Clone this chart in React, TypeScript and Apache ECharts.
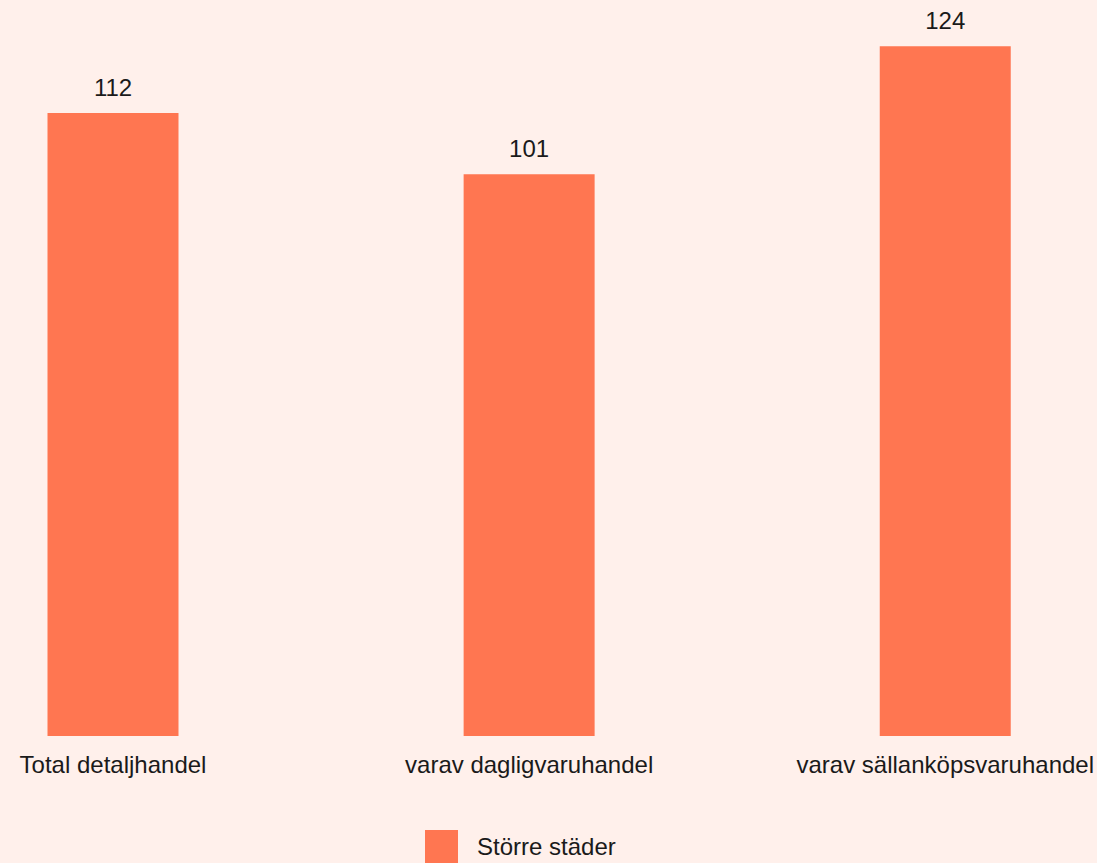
import React, { useEffect, useRef } from "react";
import * as echarts from "echarts";

const categories = ["Total detaljhandel", "varav dagligvaruhandel", "varav sällanköpsvaruhandel"];
const seriesName = "Större städer";
const values = [112, 101, 124];

const BG = "#FFF0EB";
const BAR = "#FF7651";
const FONT = "'Liberation Sans', Arial, sans-serif";

export default function App() {
  const ref = useRef<HTMLDivElement>(null);
  useEffect(() => {
    if (!ref.current) return;
    const chart = echarts.init(ref.current, undefined, { renderer: "svg" });
    chart.setOption({
      animation: false,
      backgroundColor: BG,
      textStyle: { fontFamily: FONT },
      grid: { left: 113, right: 149.5, top: 13, bottom: 127, containLabel: false },
      legend: {
        data: [seriesName],
        left: 425,
        top: 830,
        padding: 0,
        itemWidth: 33,
        itemHeight: 33,
        icon: "rect",
        textStyle: { fontSize: 24, color: "#1a1a1a", fontFamily: FONT, padding: [0, 0, 0, 14] },
      },
      xAxis: {
        type: "category",
        data: categories,
        boundaryGap: false,
        axisLine: { show: false },
        axisTick: { show: false },
        axisLabel: { fontSize: 24, color: "#1a1a1a", margin: 16, fontFamily: FONT, interval: 0 },
      },
      yAxis: {
        type: "value",
        min: 0,
        max: 130,
        show: false,
        splitLine: { show: false },
      },
      series: [
        {
          name: seriesName,
          type: "bar",
          data: values,
          barWidth: 131,
          clip: false,
          itemStyle: { color: BAR },
          label: {
            show: true,
            position: "top",
            distance: 14,
            fontSize: 24,
            color: "#1a1a1a",
            fontFamily: FONT,
          },
        },
      ],
    });
    return () => chart.dispose();
  }, []);
  return (
    <div
      ref={ref}
      style={{ position: "fixed", left: 0, top: 0, width: 1097, height: 863 }}
    />
  );
}
